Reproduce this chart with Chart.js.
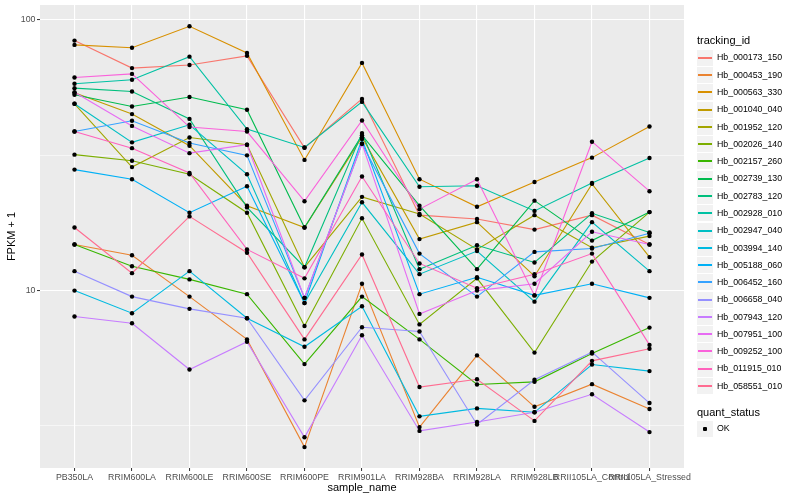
<!DOCTYPE html>
<html>
<head>
<meta charset="utf-8">
<script src="https://cdn.jsdelivr.net/npm/chart.js@4.4.1/dist/chart.umd.min.js"></script>
<style>
  body { margin: 0; background: #fff; font-family: "Liberation Sans", Arial, sans-serif; }
  #wrap { position: relative; width: 800px; height: 500px; }
  #chart { position: absolute; left: 0; top: 0; }
  .t { position: absolute; white-space: nowrap; color: #000; }
  .key { position: absolute; width: 16px; height: 16px; background: #F2F2F2; }
  .key .ln { position: absolute; left: 1px; top: 7px; width: 14px; height: 2px; }
  .key .pt { position: absolute; left: 6px; top: 6px; width: 4px; height: 4px; background: #000; border-radius: 1px; }
</style>
</head>
<body>
<div id="wrap">
  <canvas id="chart" width="800" height="500"></canvas>
  <div id="legend"></div>
</div>
<script>
// categories on the x axis
const categories = ['PB350LA', 'RRIM600LA', 'RRIM600LE', 'RRIM600SE', 'RRIM600PE', 'RRIM901LA',
  'RRIM928BA', 'RRIM928LA', 'RRIM928LB', 'RRII105LA_Control', 'RRII105LA_Stressed'];

const trackingIds = ['Hb_000173_150', 'Hb_000453_190', 'Hb_000563_330', 'Hb_001040_040', 'Hb_001952_120',
  'Hb_002026_140', 'Hb_002157_260', 'Hb_002739_130', 'Hb_002783_120', 'Hb_002928_010',
  'Hb_002947_040', 'Hb_003994_140', 'Hb_005188_060', 'Hb_006452_160', 'Hb_006658_040',
  'Hb_007943_120', 'Hb_007951_100', 'Hb_009252_100', 'Hb_011915_010', 'Hb_058551_010'];

// FPKM + 1, one value per sample
const hb_000173_150 = [83.9, 66.4, 68.2, 73.7, 33.7, 51.1, 19.0, 18.4, 16.8, 19.0, 14.8];
const hb_000453_190 = [14.8, 13.5, 9.5, 6.6, 2.64, 10.6, 3.13, 5.76, 3.72, 4.51, 3.65];
const hb_000563_330 = [80.9, 79.0, 94.8, 75.5, 30.4, 69.4, 25.8, 20.4, 25.2, 31.0, 40.4];
const hb_001040_040 = [53.8, 44.9, 34.3, 20.6, 17.1, 36.9, 15.5, 17.9, 11.3, 24.8, 13.3];
const hb_001952_120 = [49.0, 28.6, 36.8, 34.6, 12.2, 22.2, 19.2, 14.2, 19.0, 14.4, 15.9];
const hb_002026_140 = [31.8, 30.2, 26.9, 19.4, 7.4, 18.5, 7.5, 11.1, 5.9, 12.8, 19.5];
const hb_002157_260 = [14.8, 12.3, 11.0, 9.7, 5.35, 9.5, 6.6, 4.5, 4.6, 5.85, 7.3];
const hb_002739_130 = [52.9, 47.9, 51.9, 46.6, 17.1, 37.5, 20.6, 12.0, 21.5, 15.3, 19.5];
const hb_002783_120 = [56.0, 54.4, 43.1, 20.3, 12.2, 38.2, 12.0, 14.7, 12.7, 19.3, 16.4];
const hb_002928_010 = [58.1, 60.1, 73.2, 39.5, 33.8, 49.8, 24.2, 24.4, 19.7, 25.0, 30.9];
const hb_002947_040 = [49.0, 35.3, 41.0, 26.9, 9.0, 21.2, 11.5, 14.0, 9.1, 17.9, 11.8];
const hb_003994_140 = [10.0, 8.25, 11.8, 7.9, 6.2, 8.75, 3.43, 3.67, 3.55, 5.33, 5.04];
const hb_005188_060 = [28.0, 25.8, 19.4, 24.3, 9.0, 36.3, 9.7, 11.2, 9.6, 10.6, 9.4];
const hb_006452_160 = [38.7, 42.4, 35.1, 31.6, 9.4, 34.9, 13.7, 9.5, 13.9, 14.3, 16.3];
const hb_006658_040 = [11.8, 9.5, 8.56, 7.9, 3.93, 7.32, 7.06, 3.2, 4.68, 5.92, 3.84];
const hb_007943_120 = [8.02, 7.57, 5.11, 6.47, 2.87, 6.84, 3.03, 3.27, 3.55, 4.14, 3.0];
const hb_007951_100 = [54.1, 40.6, 32.2, 34.6, 9.4, 34.9, 8.2, 10.0, 10.6, 16.5, 14.8];
const hb_009252_100 = [61.3, 63.2, 40.2, 38.7, 21.4, 42.5, 20.0, 25.8, 9.6, 35.5, 23.3];
const hb_011915_010 = [38.7, 33.6, 27.2, 14.2, 11.1, 26.4, 12.6, 10.2, 11.5, 13.7, 6.3];
const hb_058551_010 = [17.1, 11.6, 18.8, 13.8, 6.6, 13.6, 4.4, 4.7, 3.3, 5.5, 6.1];

const seriesValues = [hb_000173_150, hb_000453_190, hb_000563_330, hb_001040_040, hb_001952_120,
  hb_002026_140, hb_002157_260, hb_002739_130, hb_002783_120, hb_002928_010,
  hb_002947_040, hb_003994_140, hb_005188_060, hb_006452_160, hb_006658_040,
  hb_007943_120, hb_007951_100, hb_009252_100, hb_011915_010, hb_058551_010];

const yTickLabels = [10, 100];
const yMinorBreaks = [3.1623, 31.623];
const quantStatus = ['OK'];

// ggplot hue palette, 20 levels
const palette = ['#F8766D', '#EA8331', '#D89000', '#C09B00', '#A3A500', '#7CAE00', '#39B600', '#00BB4E',
  '#00BF7D', '#00C1A3', '#00BFC4', '#00BAE0', '#00B0F6', '#35A2FF', '#9590FF', '#C77CFF',
  '#E76BF3', '#FA62DB', '#FF62BC', '#FF6C91'];

const FONT = '"Liberation Sans", Arial, sans-serif';

const panelBg = {
  id: 'panelBg',
  beforeDraw(chart) {
    const { ctx, chartArea: a } = chart;
    ctx.save();
    ctx.fillStyle = '#EBEBEB';
    ctx.fillRect(a.left, a.top, a.right - a.left, a.bottom - a.top);
    ctx.restore();
  }
};

const lineSets = seriesValues.map((vals, k) => ({
  label: trackingIds[k],
  data: vals.map((v, i) => ({ x: i, y: v })),
  borderColor: palette[k],
  backgroundColor: palette[k],
  borderWidth: 1.1,
  pointRadius: 0,
  tension: 0,
  order: seriesValues.length - k
}));

const pointSet = {
  label: quantStatus[0],
  data: seriesValues.flatMap(vals => vals.map((v, i) => ({ x: i, y: v }))),
  showLine: false,
  pointStyle: 'circle',
  pointRadius: 2.2,
  pointBackgroundColor: '#000',
  pointBorderWidth: 0,
  order: -1
};

const isMajor = v => yTickLabels.includes(v);

new Chart(document.getElementById('chart'), {
  type: 'line',
  data: { datasets: [...lineSets, pointSet] },
  plugins: [panelBg],
  options: {
    responsive: false,
    animation: false,
    devicePixelRatio: 1,
    layout: { padding: { left: 0, top: 5, right: 116, bottom: 0 } },
    plugins: { legend: { display: false }, tooltip: { enabled: false } },
    scales: {
      x: {
        type: 'linear', min: -0.6, max: 10.6,
        afterBuildTicks(s) { s.ticks = categories.map((c, i) => ({ value: i })); },
        afterFit(s) { s.height = 32; s.paddingLeft = 0; s.paddingRight = 0; },
        ticks: {
          callback: v => categories[v] ?? '',
          autoSkip: false, maxRotation: 0, minRotation: 0,
          color: '#4D4D4D', font: { size: 8.8, family: FONT }, padding: 1
        },
        grid: { color: '#FFFFFF', lineWidth: 1.1, tickLength: 3, tickColor: '#333333', tickWidth: 1 },
        border: { display: false },
        title: { display: true, text: 'sample_name', color: '#000', font: { size: 11, family: FONT }, padding: { top: 0, bottom: 5 } }
      },
      y: {
        type: 'logarithmic', min: 2.21, max: 113.6,
        afterBuildTicks(s) {
          s.ticks = [yMinorBreaks[0], yTickLabels[0], yMinorBreaks[1], yTickLabels[1]].map(v => ({ value: v }));
        },
        afterFit(s) { s.width = 40; s.paddingTop = 0; s.paddingBottom = 0; },
        ticks: {
          callback: v => isMajor(v) ? String(v) : '',
          autoSkip: false,
          color: '#4D4D4D', font: { size: 8.8, family: FONT }, padding: 1.5
        },
        grid: {
          color: '#FFFFFF',
          lineWidth: c => (c.tick && isMajor(c.tick.value)) ? 1.1 : 0.55,
          tickLength: 3,
          tickColor: c => (c.tick && isMajor(c.tick.value)) ? '#333333' : 'rgba(0,0,0,0)',
          tickWidth: 1
        },
        border: { display: false },
        title: { display: true, text: 'FPKM + 1', color: '#000', font: { size: 11, family: FONT }, padding: { top: 5.4, bottom: 0 } }
      }
    }
  }
});

// legend (ggplot style, right side)
const lg = document.getElementById('legend');
function addText(txt, x, yMid, size) {
  const d = document.createElement('div');
  d.className = 't';
  d.textContent = txt;
  d.style.left = x + 'px';
  d.style.top = (yMid - size * 0.6) + 'px';
  d.style.fontSize = size + 'px';
  d.style.lineHeight = (size * 1.2) + 'px';
  lg.appendChild(d);
}
function addKey(yMid, cls, colour) {
  const key = document.createElement('div');
  key.className = 'key';
  key.style.left = '697px';
  key.style.top = Math.round(yMid - 8) + 'px';
  const mark = document.createElement('div');
  mark.className = cls;
  if (colour) mark.style.backgroundColor = colour;
  key.appendChild(mark);
  lg.appendChild(key);
}
addText('tracking_id', 697, 40.7, 11);
trackingIds.forEach((id, k) => {
  const c = 57.7 + k * 17.28;
  addKey(c, 'ln', palette[k]);
  addText(id, 717, c, 8.8);
});
addText('quant_status', 697, 412.7, 11);
quantStatus.forEach((q, k) => {
  const c = 428.7 + k * 17.28;
  addKey(c, 'pt');
  addText(q, 717, c, 8.8);
});
</script>
</body>
</html>
